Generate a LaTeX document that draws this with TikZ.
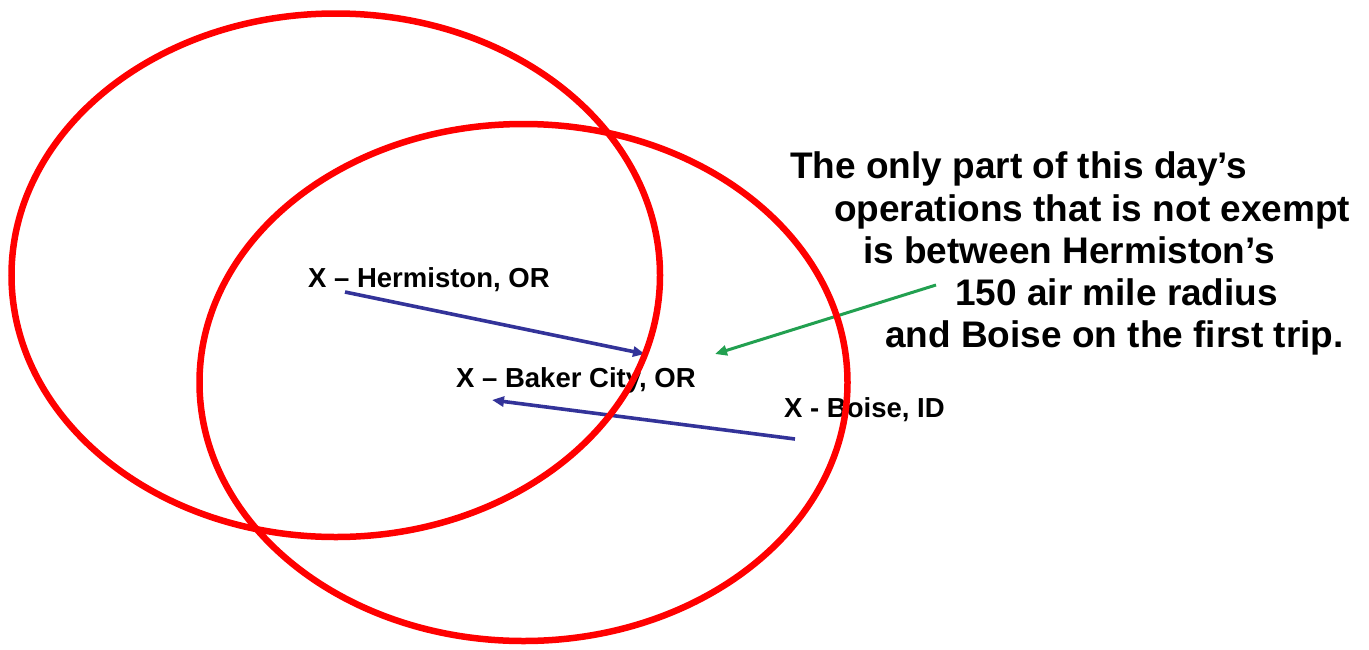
\documentclass[tikz,border=0pt]{standalone}
\usepackage{fontspec}
\setmainfont{Liberation Sans}
\usetikzlibrary{arrows.meta}
\definecolor{ringred}{RGB}{255,0,0}
\definecolor{tripblue}{RGB}{51,51,153}
\definecolor{notegreen}{RGB}{34,160,80}
\tikzset{
  place/.style={anchor=base west, inner sep=0pt, font=\bfseries\fontsize{27.5}{33}\selectfont},
  note/.style={anchor=base west, inner sep=0pt, font=\bfseries\fontsize{37}{43}\selectfont},
  ring/.style={draw=ringred, line width=6.5pt},
  trip/.style={draw=tripblue, line width=3.6pt, -{Triangle[length=12pt,width=10pt]}},
  pointer/.style={draw=notegreen, line width=3pt, -{Triangle[length=12pt,width=10pt]}}
}
\begin{document}
\begin{tikzpicture}[x=1pt,y=-1pt]
\useasboundingbox (0,0) rectangle (1369,649);
% labels
\node[place] (herm) at (308,287) {X – Hermiston, OR};
\node[place] (baker) at (456,387) {X – Baker City, OR};
\node[place] (boise) at (784,417) {X - Boise, ID};
% note
\node[note] (n1) at (790,178) {The only part of this day’s};
\node[note] (n2) at (834,221) {operations that is not exempt};
\node[note] (n3) at (863,263) {is between Hermiston’s};
\node[note] (n4) at (955,305) {150 air mile radius};
\node[note] (n5) at (885,347) {and Boise on the first trip.};
% arrow end points
\coordinate (a1s) at (345,292);
\coordinate (a1e) at (645,354);
\coordinate (a2s) at (795,439);
\coordinate (a2e) at (492,400);
\coordinate (gs) at (936,285);
\coordinate (ge) at (715,354);
\draw[trip] (a1s) -- (a1e);
\draw[trip] (a2s) -- (a2e);
\draw[pointer] (gs) -- (ge);
% radius rings
\draw[ring] (335.75,275.25) ellipse [x radius=324.25, y radius=261.75];
\draw[ring] (523.5,382.5) ellipse [x radius=324, y radius=258.5];
\end{tikzpicture}
\end{document}
